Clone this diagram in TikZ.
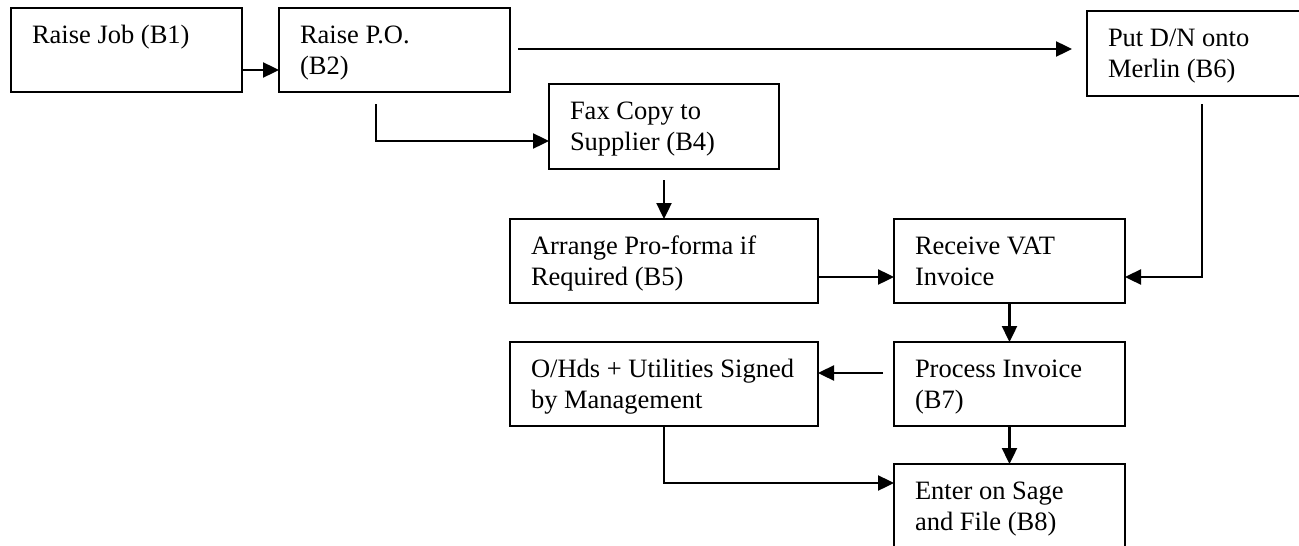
\documentclass[tikz,border=0pt]{standalone}
\usepackage{fontspec}
\setmainfont{Liberation Serif}
\usetikzlibrary{arrows.meta,calc}
\newcommand{\bt}[2]{\parbox[t]{#1}{#2}}
\tikzset{
  box/.style={draw, line width=2.2pt, rectangle, anchor=north west, outer sep=0pt,
    inner xsep=21pt, inner ysep=0pt, text height=35pt, text depth=49pt,
    font=\fontsize{26.5}{31.5}\selectfont},
  tall/.style={text depth=50pt},
  arr/.style={line width=2.4pt, -{Triangle[length=16pt,width=15pt]}}
}
\begin{document}
\begin{tikzpicture}[x=1pt,y=-1pt]
\path[use as bounding box] (0,0) rectangle (1299,546);
\clip (0,0) rectangle (1299,546);
\node[box] (b1) at (11,8) {\bt{189pt}{Raise Job (B1)}};
\node[box] (b2) at (279,8) {\bt{189pt}{Raise P.O.\\(B2)}};
\node[box,tall] (b6) at (1087,11) {\bt{189pt}{Put D/N onto\\Merlin (B6)}};
\node[box,tall] (b4) at (549,84) {\bt{188pt}{Fax Copy to\\Supplier (B4)}};
\node[box] (b5) at (510,219) {\bt{266pt}{Arrange Pro-forma if\\Required (B5)}};
\node[box] (rvat) at (894,219) {\bt{189pt}{Receive VAT\\Invoice}};
\node[box] (ohds) at (510,342) {\bt{266pt}{\mbox{O/Hds + Utilities Signed}\\by Management}};
\node[box] (proc) at (894,342) {\bt{189pt}{Process Invoice\\(B7)}};
\node[box] (enter) at (894,464) {\bt{189pt}{Enter on Sage\\and File (B8)}};

\draw[arr] (b1.east |- 0,70) -- (b2.west |- 0,70);
\draw[arr, shorten <=8pt, shorten >=15pt] (b2.east |- 0,49) -- (b6.west |- 0,49);
\draw[arr, shorten <=12pt] (376,0 |- b2.south) |- (b4.west |- 0,141);
\draw[arr, shorten <=11pt] (b4.south) -- (b5.north);
\draw[arr] (b5.east |- 0,277) -- (rvat.west |- 0,277);
\draw[arr, shorten <=8pt] (1202,0 |- b6.south) |- (rvat.east |- 0,277);
\draw[arr] (rvat.south) -- (proc.north);
\draw[arr, shorten <=11pt] (proc.west |- 0,373) -- (ohds.east |- 0,373);
\draw[arr] (proc.south) -- (enter.north);
\draw[arr] (ohds.south) |- (enter.west |- 0,483);
\end{tikzpicture}
\end{document}
